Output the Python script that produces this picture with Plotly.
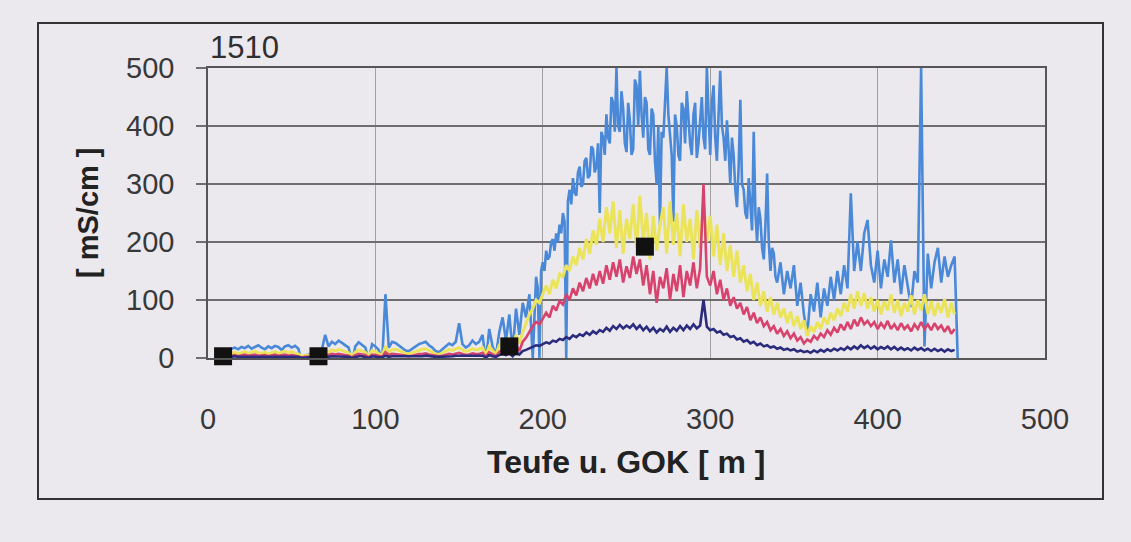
import plotly.graph_objects as go

# Depth grid of the digitised readings (m below ground level)
depth = list(range(14, 450, 2))
# the blue curve is read at 1 m steps where its band is widest
blue_depth = list(range(14, 196, 2)) + list(range(196, 341)) + list(range(342, 450, 2))

blue = [16, 18, 15, 19, 17, 21, 16, 19, 22, 18,
        15, 20, 17, 21, 19, 14, 20, 22, 18, 21,
        16, -8, 4, 6, 8, 7, 9, 14, 40, 20,
        28, 24, 30, 26, 22, 18, -8, 20, 27, 22,
        18, -5, 24, 20, 14, -8, 110, 18, 28, 26,
        22, 17, 13, 12, 16, 20, 24, 26, 28, 22,
        18, 12, 10, 15, 20, 25, 22, 28, 60, 24,
        18, 22, 30, 24, 28, 40, -6, 50, 20, 5,
        45, 70, 30, 75, 10, 85, 40, 95, 70, 110,
        0,
        # 196 .. 340 m, 1 m steps
        140, 120, 0, 150, 165, 150, 185, 170, 175, 200,
        205, 185, 215, 200, 230, 215, 250, 235, 0, 270,
        290, 265, 310, 285, 280, 320, 330, 295, 300, 340,
        345, 310, 315, 365, 360, 320, 330, 370, 250, 390,
        380, 350, 420, 380, 370, 450, 440, 390, 500, 400,
        390, 460, 430, 370, 355, 440, 410, 350, 360, 480,
        470, 400, 495, 420, 380, 450, 440, 360, 350, 430,
        420, 340, 300, 400, 228, 390, 380, 440, 500, 420,
        390, 350, 235, 420, 400, 350, 340, 440, 430, 370,
        460, 420, 370, 350, 420, 440, 345, 370, 410, 450,
        380, 360, 500, 420, 350, 440, 470, 380, 340, 420,
        495, 400, 380, 340, 410, 360, 300, 380, 350, 290,
        260, 330, 445, 300, 290, 250, 240, 310, 270, 220,
        390, 250, 200, 260, 240, 190, 170, 230, 318, 200,
        150, 190, 180, 140, 130,
        # 342 .. 448 m, 2 m steps
        165, 110, 150, 120, 160, 90, 130, 75, 40, 110,
        80, 130, 70, 120, 90, 140, 100, 150, 110, 160,
        120, 284, 150, 200, 150, 215, 238, 160, 130, 185,
        120, 170, 140, 203, 130, 170, 110, 160, 120, 88,
        150, 130, 500, 20, 180, 120, 165, 190, 130, 175,
        140, 160, 175, -15]

yellow = [8, 10, 7, 9, 11, 8, 10, 12, 9, 8,
          10, 7, 9, 11, 8, 10, 12, 9, 11, 8,
          7, 3, 4, 5, 6, 5, 6, 8, 12, 10,
          14, 12, 15, 13, 11, 9, 3, 10, 14, 12,
          10, 3, 13, 11, 8, 4, 20, 10, 14, 15,
          13, 10, 8, 7, 9, 12, 14, 15, 16, 13,
          10, 7, 6, 9, 12, 15, 13, 16, 18, 14,
          11, 13, 16, 14, 15, 18, 5, 20, 12, 6,
          22, 30, 18, 35, 10, 40, 25, 45, 60, 75,
          85, 100, 95, 112, 125, 110, 135, 120, 145, 140,
          160, 150, 175, 160, 190, 170, 205, 180, 220, 195,
          240, 200, 260, 215, 270, 190, 255, 180, 240, 205,
          265, 190, 280, 200, 250, 170, 245, 185, 230, 260,
          180, 270, 195, 250, 175, 265, 200, 240, 170, 255,
          190, 270, 200, 245, 175, 230, 160, 215, 150, 195,
          140, 185, 130, 160, 115, 145, 100, 130, 90, 115,
          80, 105, 75, 95, 70, 85, 60, 80, 55, 72,
          50, 65, 38, 55, 45, 62, 50, 70, 58, 78,
          65, 85, 72, 95, 80, 110, 85, 115, 90, 112,
          85, 105, 80, 100, 75, 98, 82, 110, 78, 100,
          72, 95, 80, 108, 75, 100, 82, 110, 76, 98,
          72, 95, 78, 102, 70, 95, 75, None]

red = [4, 5, 3, 5, 6, 4, 5, 6, 4, 5,
       5, 3, 4, 6, 4, 5, 6, 4, 5, 4,
       3, 1, 2, 2, 3, 2, 3, 4, 6, 5,
       7, 6, 7, 6, 5, 4, 1, 5, 7, 6,
       5, 1, 6, 5, 4, 2, 10, 5, 7, 7,
       6, 5, 4, 3, 4, 6, 7, 7, 8, 6,
       5, 3, 3, 4, 6, 7, 6, 8, 9, 7,
       5, 6, 8, 7, 7, 9, 2, 10, 6, 3,
       10, 15, 9, 18, 5, 22, 12, 28, 35, 45,
       55, 62, 58, 68, 78, 70, 90, 82, 98, 92,
       110, 100, 120, 108, 130, 115, 138, 120, 145, 125,
       150, 128, 160, 135, 165, 140, 170, 130, 158, 138,
       175, 145, 170, 125, 160, 110, 150, 95, 140, 120,
       155, 100, 145, 115, 160, 105, 150, 125, 165, 120,
       155, 300, 140, 125, 150, 110, 135, 100, 120, 90,
       105, 85, 95, 75, 88, 65, 78, 60, 70, 55,
       62, 48, 55, 42, 50, 38, 46, 34, 42, 30,
       36, 25, 32, 28, 38, 32, 42, 36, 48, 40,
       52, 44, 58, 48, 62, 50, 66, 55, 70, 58,
       64, 55, 62, 50, 60, 52, 64, 50, 58, 48,
       60, 50, 56, 46, 58, 50, 62, 50, 58, 48,
       60, 50, 56, 45, 55, 42, 50, None]

navy = [2, 3, 2, 2, 3, 2, 3, 2, 2, 3,
        2, 2, 3, 2, 2, 3, 2, 3, 2, 2,
        2, 0, 1, 1, 1, 1, 1, 2, 3, 2,
        3, 3, 3, 3, 2, 2, 0, 2, 3, 3,
        2, 0, 3, 2, 2, 1, 4, 2, 3, 3,
        3, 2, 2, 2, 2, 3, 3, 3, 4, 3,
        2, 2, 2, 2, 3, 3, 3, 4, 4, 3,
        3, 3, 4, 3, 3, 4, 1, 5, 3, 2,
        5, 7, 5, 8, 3, 10, 6, 12, 14, 17,
        20, 22, 21, 24, 27, 25, 30, 28, 33, 31,
        36, 33, 39, 36, 41, 38, 44, 40, 46, 42,
        48, 45, 52, 47, 55, 50, 57, 51, 56, 52,
        58, 50, 56, 48, 54, 46, 52, 44, 50, 46,
        54, 45, 52, 47, 55, 48, 56, 50, 58, 51,
        56, 100, 54, 48, 50, 44, 46, 40, 42, 36,
        38, 32, 34, 28, 31, 25, 28, 22, 25, 20,
        22, 18, 20, 16, 18, 14, 16, 13, 15, 11,
        13, 10, 12, 9, 13, 10, 14, 11, 15, 12,
        16, 13, 17, 14, 19, 15, 20, 16, 22, 17,
        21, 16, 20, 15, 19, 16, 20, 15, 19, 14,
        18, 14, 17, 13, 18, 14, 17, 13, 16, 12,
        16, 12, 15, 11, 15, 12, 14, None]

# Laboratory reference measurements (black squares)
lab_depth = [9, 66, 180, 261]
lab_value = [3, 3, 20, 192]

x_ticks = [0, 100, 200, 300, 400, 500]
y_ticks = [0, 100, 200, 300, 400, 500]

BG = "#ebe9ee"
FONT = "Liberation Sans, Arial, sans-serif"

fig = go.Figure()
series = [(blue_depth, blue, "#4a88d8", 2.6), (depth, yellow, "#ebe45a", 3),
          (depth, red, "#d8436e", 2.6), (depth, navy, "#2c2c7e", 2.6)]
for xs, vals, col, w in series:
    fig.add_trace(go.Scatter(x=xs, y=vals, mode="lines",
                             line=dict(color=col, width=w), showlegend=False,
                             connectgaps=False))
fig.add_trace(go.Scatter(x=lab_depth, y=lab_value, mode="markers",
                         marker=dict(symbol="square", size=18, color="#111111"),
                         cliponaxis=False, showlegend=False))

fig.update_layout(
    width=1131, height=542,
    margin=dict(l=208, r=86, t=68, b=184),
    paper_bgcolor=BG, plot_bgcolor=BG,
    font=dict(family=FONT, color="#333333", size=29),
    xaxis=dict(range=[0, 500], tickvals=x_ticks, showgrid=True,
               gridcolor="#a0a0a0", gridwidth=1, zeroline=False,
               showline=True, linecolor="#555555", linewidth=1.5, mirror=True,
               ticks="", ticklabelstandoff=34,
               tickfont=dict(size=29, color="#383838")),
    yaxis=dict(range=[0, 500], tickvals=y_ticks, showgrid=True,
               gridcolor="#6e6e6e", gridwidth=1.5, zeroline=False,
               showline=True, linecolor="#555555", linewidth=1.5, mirror=True,
               ticks="outside", ticklen=10, tickcolor="#6e6e6e", tickwidth=1.5,
               ticklabelstandoff=16,
               tickfont=dict(size=29, color="#383838")),
    annotations=[
        dict(text="1510", xref="paper", yref="paper", x=0, y=1,
             xanchor="left", yanchor="middle", yshift=21, showarrow=False,
             font=dict(size=31, color="#2f2f2f", family=FONT)),
        dict(text="<b>[ mS/cm ]</b>", xref="paper", yref="paper", x=0, y=0.5,
             xanchor="center", yanchor="middle", xshift=-120, textangle=-90,
             showarrow=False, font=dict(size=29, color="#222222", family=FONT)),
        dict(text="<b>Teufe u. GOK [ m ]</b>", xref="paper", yref="paper", x=0.5, y=0,
             xanchor="center", yanchor="middle", yshift=-104,
             showarrow=False, font=dict(size=32, color="#222222", family=FONT)),
    ],
    shapes=[
        dict(type="rect", xref="paper", yref="paper",
             x0=(38 - 208) / 837, x1=(1103 - 208) / 837,
             y0=(358 - 499) / 290, y1=(358 - 23) / 290,
             line=dict(color="#333333", width=2), layer="below"),
    ],
)

fig.write_html("out.html")
